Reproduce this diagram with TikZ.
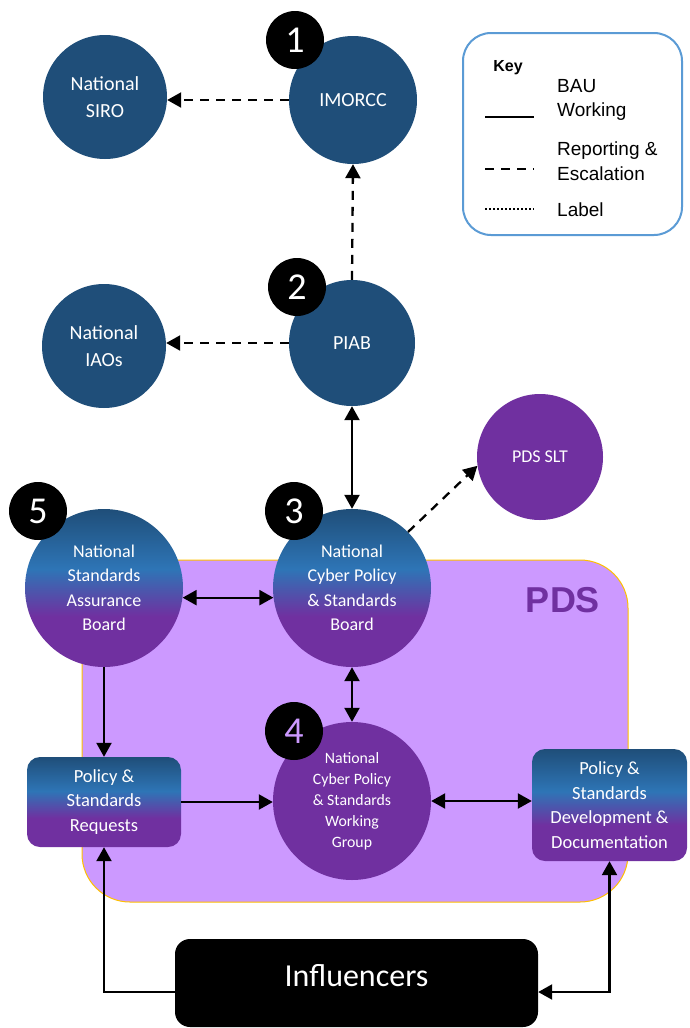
\documentclass[tikz,border=0pt]{standalone}
\usepackage{fontspec}
\setmainfont{Carlito}
\newfontfamily\arialf{Liberation Sans}
\usetikzlibrary{arrows.meta,calc}
\definecolor{dblue}{RGB}{31,78,121}
\definecolor{lblue}{RGB}{46,117,182}
\definecolor{purp}{RGB}{112,48,160}
\definecolor{lav}{RGB}{204,153,255}
\definecolor{gold}{RGB}{255,192,0}
\definecolor{keyblue}{RGB}{91,155,213}
\pgfdeclareverticalshading{bpgrad}{100bp}{color(0bp)=(purp); color(25bp)=(purp); color(41bp)=(purp); color(56bp)=(lblue); color(75bp)=(dblue); color(100bp)=(dblue)}
\begin{document}
\begin{tikzpicture}[x=1pt,y=-1pt,
  topc/.style={circle, fill=dblue, minimum size=124pt, inner sep=0pt, text=white, font=\fontsize{20}{27}\selectfont, align=center},
  gradc/.style={circle, shading=bpgrad, minimum size=158pt, inner sep=0pt, text=white, font=\fontsize{18}{24.5}\selectfont, align=center},
  purpc/.style={circle, fill=purp, inner sep=0pt, text=white, align=center},
  badge/.style={circle, fill=black, minimum size=58pt, inner sep=0pt, text=white, font=\fontsize{38}{38}\selectfont},
  gradbox/.style={rectangle, rounded corners=13pt, shading=bpgrad, text=white, align=center, font=\fontsize{18.5}{24.5}\selectfont, inner sep=0pt},
  conn/.style={line width=2.3pt, -{Triangle[length=14pt,width=15pt]}},
  biconn/.style={line width=2.3pt, {Triangle[length=14pt,width=15pt]}-{Triangle[length=14pt,width=15pt]}},
  dconn/.style={conn, dash pattern=on 9pt off 7pt},
  keytext/.style={anchor=west, font=\arialf\fontsize{19}{24.5}\selectfont, align=left, inner sep=0pt},
  keyline/.style={line width=2.5pt}
]
\useasboundingbox (0,0) rectangle (689,1028);

% PDS area
\node[rectangle, rounded corners=48pt, fill=lav, draw=gold, line width=1pt, minimum width=546pt, minimum height=342pt] (pds) at (355,731) {};
\node[font=\arialf\bfseries\fontsize{36}{36}\selectfont, text=purp] (pdslabel) at (563,600) {PDS};

% Key
\node[rectangle, rounded corners=28pt, draw=keyblue, line width=2pt, fill=white, minimum width=219pt, minimum height=202pt] (key) at (572.5,134) {};
\node[font=\arialf\bfseries\fontsize{16}{16}\selectfont] (keytitle) at (508,68) {Key};
\node[keytext] (k1) at (557,100) {BAU\\Working};
\node[keytext] (k2) at (557,161) {Reporting \&\\Escalation};
\node[keytext] (k3) at (557,210) {Label};
\coordinate (k1a) at (485,117); \coordinate (k1b) at (534,117);
\coordinate (k2a) at (485,169); \coordinate (k2b) at (534,169);
\coordinate (k3a) at (485,209); \coordinate (k3b) at (534,209);
\draw[keyline] (k1a) -- (k1b);
\draw[keyline, dash pattern=on 9pt off 7pt] (k2a) -- (k2b);
\draw[keyline, line width=2.5pt, dash pattern=on 2pt off 2pt] (k3a) -- (k3b);

% Top circles
\node[topc] (siro) at (105,97) {National\\SIRO};
\node[topc, minimum size=128pt] (imorcc) at (353,100) {IMORCC};
\node[topc] (iaos) at (104,346) {National\\IAOs};
\node[topc, minimum size=126pt] (piab) at (352,343) {PIAB};
\node[purpc, minimum size=126pt, font=\fontsize{18}{20}\selectfont] (slt) at (540,457) {PDS SLT};

% Gradient circles
\node[gradc] (b5) at (104,588) {National\\Standards\\Assurance\\Board};
\node[gradc] (b3) at (352,588) {National\\Cyber Policy\\\& Standards\\Board};
\node[purpc, minimum size=158pt, font=\fontsize{15.8}{21}\selectfont] (wg4) at (352,801) {National\\Cyber Policy\\\& Standards\\Working\\Group};

% Boxes
\node[gradbox, minimum width=154pt, minimum height=90pt] (req) at (104,802) {Policy \&\\Standards\\Requests};
\node[gradbox, minimum width=155pt, minimum height=112pt] (dev) at (609.5,805) {Policy \&\\Standards\\Development \&\\Documentation};
\node[rectangle, rounded corners=15pt, fill=black, text=white, minimum width=363pt, minimum height=88pt, text depth=16pt, font=\fontsize{32}{32}\selectfont] (infl) at (356.5,983) {Influencers};

% Badges
\node[badge] (n1) at (295,40) {1};
\node[badge] (n2) at (297,287) {2};
\node[badge] (n3) at (294,511) {3};
\node[badge] (n5) at (38,511) {5};
\node[badge, text=lav] (n4) at (294,731) {4};

% Connectors
\draw[dconn] (imorcc.west) -- (imorcc.west -| siro.east);
\draw[dconn] (piab.north) -- (imorcc.south);
\draw[dconn] (piab.west) -- (piab.west -| iaos.east);
\draw[biconn] (piab.south) -- (b3.north);
\draw[dconn] (b3.45) -- (slt.188);
\draw[biconn] (b5.-7) -- (b3.-173);
\draw[biconn] (b3.south) -- (wg4.north);
\draw[conn] (b5.south) -- (req.north);
\draw[conn] (req.east) -- (req.east -| wg4.west);
\draw[biconn] (wg4.east) -- (wg4.east -| dev.west);
\draw[conn] ([yshift=-9pt]infl.west) -| (req.south);
\draw[biconn] (dev.south) |- ([yshift=-9pt]infl.east);
\end{tikzpicture}
\end{document}
